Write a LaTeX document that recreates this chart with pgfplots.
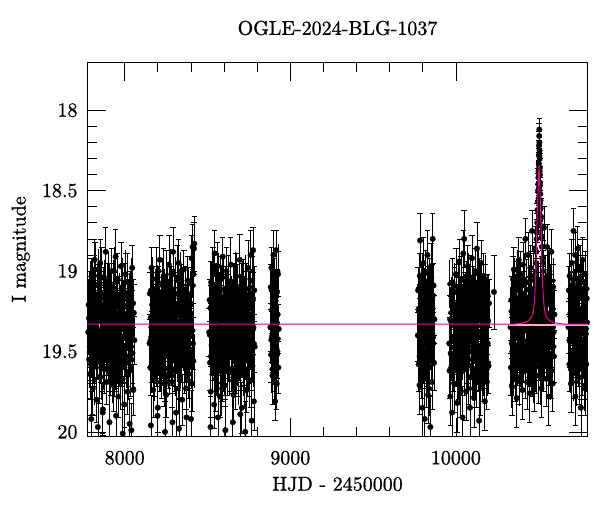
\documentclass[border=0pt]{standalone}
\usepackage{fontspec}
\setmainfont{lmroman10-regular.otf}[FakeBold=1]
\usepackage{pgfplots}
\pgfplotsset{compat=1.18}
\usepackage{pgfplotstable}

% light error bars: one path each, no nodes
\pgfplotsset{
  barplain/.style={/pgfplots/error bars/draw error bar/.code 2 args={%
    \draw[black, line width=0.9pt] ##1 -- ##2;}},
  barcap/.style={/pgfplots/error bars/draw error bar/.code 2 args={%
    \draw[black, line width=0.75pt] ##1 -- ##2 ++(-2.7pt,0pt) -- ++(5.4pt,0pt);}},
}

% OGLE I-band light curve, HJD-2450000, mag, error
\pgfplotstableread{
x y e
7780 19.38 .14
7782 19.21 .16
7785 19.55 .13
7787 19.30 .18
7790 19.64 .15
7792 19.15 .12
7795 19.41 .17
7797 19.06 .14
7798 19.92 .17
7800 19.47 .19
7802 19.33 .15
7805 19.24 .13
7807 19.73 .16
7810 19.12 .14
7812 19.50 .20
7815 19.27 .15
7817 19.59 .13
7818 18.93 .13
7820 18.99 .17
7822 19.44 .15
7825 19.18 .12
7827 19.36 .18
7830 19.80 .14
7832 19.23 .16
7835 19.52 .15
7837 19.09 .13
7838 19.97 .18
7840 19.39 .17
7842 19.31 .14
7845 19.66 .16
7847 19.17 .13
7850 19.42 .18
7852 18.95 .15
7855 19.57 .12
7857 19.26 .17
7860 19.46 .14
7862 19.04 .19
7865 19.35 .15
7867 19.88 .13
7868 19.86 .16
7870 19.14 .16
7872 19.48 .14
7875 19.29 .20
7877 19.61 .15
7880 19.20 .13
7882 19.40 .17
7885 18.88 .15
7887 19.53 .12
7890 19.32 .18
7892 19.69 .14
7895 19.11 .16
7897 19.43 .15
7900 19.22 .13
7902 19.51 .17
7905 19.25 .14
7907 19.49 .16
7908 19.94 .19
7910 19.08 .13
7912 19.37 .18
7915 19.62 .15
7917 19.19 .12
7920 19.54 .17
7922 19.00 .14
7925 19.34 .19
7927 19.45 .15
7930 19.13 .13
7932 19.71 .16
7935 19.28 .14
7937 19.58 .20
7940 19.16 .15
7942 19.42 .13
7945 18.91 .17
7947 19.47 .15
7948 19.90 .17
7950 19.63 .12
7952 19.22 .18
7955 19.39 .14
7957 19.05 .16
7960 19.52 .15
7962 19.78 .13
7965 19.30 .17
7967 19.17 .14
7970 19.56 .16
7972 19.24 .13
7975 19.44 .18
7977 18.97 .15
7980 19.60 .12
7982 19.35 .17
7985 19.10 .14
7987 19.67 .19
7988 20.01 .18
7990 19.21 .15
7992 19.48 .13
7995 19.27 .16
7997 19.83 .14
8000 19.15 .20
8002 19.41 .15
8005 19.02 .13
8007 19.53 .17
8010 19.31 .15
8012 19.46 .12
8015 19.07 .18
8017 19.75 .14
8020 19.23 .16
8022 19.57 .15
8025 19.18 .13
8027 19.38 .17
8030 19.95 .16
8032 19.14 .14
8035 19.60 .18
8037 19.29 .13
8040 19.99 .17
8042 19.41 .15
8045 18.98 .14
8047 19.51 .19
8050 19.20 .15
8052 19.74 .16
8055 19.26 .18
8058 19.43 .15
8150 19.45 .15
8152 19.14 .13
8155 19.60 .17
8157 19.29 .14
8158 19.96 .19
8160 19.41 .16
8162 18.98 .13
8165 19.51 .18
8167 19.36 .15
8170 19.20 .12
8172 19.74 .17
8175 19.11 .14
8177 19.43 .19
8180 19.26 .15
8182 19.65 .13
8185 19.17 .16
8187 19.54 .14
8190 19.05 .20
8192 19.39 .15
8195 19.48 .13
8197 19.24 .17
8198 19.90 .18
8200 19.85 .15
8202 19.09 .12
8205 19.46 .18
8207 19.32 .14
8210 19.59 .16
8212 18.93 .15
8215 19.42 .13
8217 19.50 .17
8220 19.22 .14
8222 19.63 .16
8225 19.13 .13
8227 19.37 .18
8230 19.19 .15
8232 19.56 .12
8235 19.03 .17
8237 19.70 .14
8240 19.28 .19
8242 19.44 .15
8243 20.00 .19
8245 19.15 .13
8247 19.40 .16
8250 19.77 .14
8252 19.07 .20
8255 19.49 .15
8257 19.25 .13
8260 19.53 .17
8262 19.21 .15
8265 19.61 .12
8267 18.96 .18
8270 19.34 .14
8272 19.47 .16
8275 19.51 .15
8277 19.22 .13
8280 19.43 .17
8282 19.11 .14
8285 19.69 .16
8287 19.32 .13
8288 19.94 .18
8290 19.53 .18
8292 18.88 .15
8295 19.40 .12
8297 19.20 .17
8300 19.61 .14
8302 19.29 .19
8305 19.48 .15
8307 19.14 .13
8310 19.88 .16
8312 19.35 .14
8315 19.04 .20
8317 19.46 .15
8320 19.26 .13
8322 19.57 .17
8325 18.95 .15
8327 19.42 .12
8328 19.98 .19
8330 19.17 .18
8332 19.66 .14
8335 19.31 .16
8337 19.39 .15
8340 19.09 .13
8342 19.52 .17
8345 19.23 .14
8347 19.80 .16
8350 19.36 .13
8352 19.18 .18
8355 19.44 .15
8357 18.99 .12
8360 19.59 .17
8362 19.27 .14
8365 19.50 .19
8367 19.12 .15
8370 19.73 .13
8372 19.24 .16
8373 19.91 .17
8375 19.33 .14
8377 19.47 .20
8380 19.06 .15
8382 19.41 .13
8385 19.15 .17
8387 19.64 .15
8390 19.30 .12
8392 19.55 .18
8395 19.21 .14
8397 19.38 .16
8400 19.92 .18
8402 19.08 .15
8405 18.92 .14
8407 19.70 .17
8410 18.85 .14
8412 19.45 .16
8415 19.02 .18
8418 18.86 .16
8420 18.83 .17
8510 19.38 .15
8512 19.18 .13
8515 19.57 .17
8517 19.23 .14
8518 19.97 .19
8520 19.75 .16
8522 19.07 .13
8525 19.46 .18
8527 19.31 .15
8530 19.53 .12
8532 19.02 .17
8535 19.41 .14
8537 19.15 .19
8540 19.83 .15
8542 19.27 .13
8543 18.89 .14
8545 19.48 .16
8547 19.21 .14
8550 19.67 .20
8552 19.10 .15
8555 19.35 .13
8557 19.60 .17
8560 18.97 .15
8562 19.44 .12
8563 19.91 .18
8565 19.24 .18
8567 19.56 .14
8570 19.17 .16
8572 19.30 .15
8575 19.78 .13
8577 19.52 .17
8580 19.05 .14
8582 19.39 .16
8585 19.22 .13
8587 19.63 .18
8590 19.47 .15
8592 18.91 .12
8595 19.42 .17
8597 19.16 .14
8600 19.58 .19
8602 19.28 .15
8605 19.71 .13
8607 19.13 .16
8608 19.99 .19
8610 19.45 .14
8612 19.34 .20
8615 19.00 .15
8617 19.54 .13
8620 19.19 .17
8622 19.62 .15
8625 19.37 .12
8627 19.08 .18
8630 19.49 .14
8632 19.25 .16
8635 19.47 .15
8637 19.34 .13
8640 18.96 .17
8642 19.61 .14
8645 19.21 .16
8647 19.53 .13
8650 19.25 .18
8652 19.49 .15
8653 19.94 .18
8655 19.07 .12
8657 19.77 .17
8660 19.40 .14
8662 19.15 .19
8665 19.44 .15
8667 19.28 .13
8670 19.70 .16
8672 19.03 .14
8675 19.56 .20
8677 19.19 .15
8680 19.37 .13
8682 19.13 .17
8685 19.63 .15
8687 19.22 .12
8690 19.50 .18
8692 19.42 .14
8695 18.93 .16
8697 19.59 .15
8698 19.89 .17
8700 19.32 .13
8702 19.46 .17
8705 19.09 .14
8707 19.85 .16
8710 19.24 .13
8712 19.48 .18
8715 19.39 .15
8717 19.05 .12
8720 19.54 .17
8722 19.17 .14
8725 19.65 .19
8727 19.26 .15
8728 20.00 .19
8730 19.43 .13
8732 19.11 .16
8735 19.74 .14
8737 19.20 .20
8740 19.36 .15
8742 19.51 .13
8745 18.98 .17
8747 19.41 .15
8750 19.29 .12
8752 19.60 .18
8755 19.14 .14
8757 19.45 .16
8760 18.90 .15
8762 19.68 .17
8765 19.27 .14
8767 19.93 .19
8770 19.06 .15
8772 19.52 .16
8775 18.87 .14
8777 19.35 .17
8780 19.81 .18
8782 19.12 .15
8785 19.47 .16
8880 19.35 .15
8882 19.10 .14
8884 19.52 .17
8886 18.98 .13
8888 19.41 .16
8890 19.24 .15
8892 19.65 .18
8894 19.17 .14
8896 19.47 .16
8898 18.90 .15
8900 19.30 .13
8902 19.58 .17
8904 19.06 .14
8906 19.38 .16
8908 19.81 .12
8910 19.21 .15
8912 19.44 .17
8914 18.87 .12
8916 19.33 .15
8918 19.70 .16
8920 19.13 .14
8922 19.50 .17
8924 19.27 .15
8926 19.02 .14
8928 19.60 .16
8930 19.36 .15
9770 19.40 .16
9772 19.12 .14
9775 19.58 .17
9777 19.25 .15
9780 19.71 .18
9782 19.03 .14
9784 18.81 .17
9786 19.47 .16
9788 19.18 .15
9790 19.36 .13
9792 19.62 .17
9794 19.08 .14
9796 19.29 .16
9798 19.85 .19
9800 19.21 .15
9802 19.44 .13
9804 18.95 .16
9806 19.53 .17
9808 19.33 .14
9810 19.14 .15
9812 19.92 .19
9814 19.26 .15
9816 19.49 .16
9818 19.01 .14
9820 19.67 .18
9822 19.38 .15
9824 19.19 .13
9826 19.55 .17
9828 18.90 .15
9830 19.42 .16
9832 19.77 .18
9834 19.11 .14
9836 19.31 .15
9838 19.60 .17
9840 19.06 .14
9842 19.45 .16
9844 19.23 .15
9846 19.97 .19
9848 19.35 .15
9850 18.97 .14
9852 19.52 .16
9854 19.16 .15
9856 19.69 .17
9858 19.28 .14
9860 18.80 .16
9862 19.41 .15
9865 19.09 .14
9868 19.57 .17
9870 19.30 .15
9960 19.45 .16
9962 19.62 .17
9965 19.30 .15
9967 19.78 .18
9970 19.31 .15
9972 19.52 .16
9975 19.20 .14
9977 19.88 .19
9980 19.07 .15
9982 19.41 .16
9985 19.58 .17
9987 19.26 .14
9990 19.70 .18
9992 19.13 .15
9995 19.47 .16
9997 19.34 .13
10000 19.02 .16
10002 19.55 .17
10005 19.22 .14
10007 19.82 .18
10010 19.38 .15
10012 19.10 .14
10015 19.63 .17
10017 19.28 .15
10020 18.94 .14
10022 19.49 .16
10025 19.17 .13
10027 19.73 .18
10030 19.33 .15
10032 19.05 .14
10035 19.57 .17
10037 19.24 .15
10040 19.91 .19
10042 19.42 .16
10045 18.89 .14
10047 19.36 .15
10050 18.80 .18
10052 19.60 .17
10055 19.15 .14
10057 19.46 .16
10060 19.27 .15
10062 19.75 .18
10065 19.08 .14
10067 19.40 .16
10070 19.53 .17
10072 18.97 .13
10075 19.31 .15
10077 19.66 .17
10080 19.19 .14
10082 19.44 .16
10085 19.85 .19
10087 19.23 .15
10090 19.04 .14
10092 19.50 .16
10095 19.35 .15
10097 18.92 .14
10100 19.61 .17
10102 19.26 .15
10105 19.43 .16
10107 19.11 .14
10110 19.79 .18
10112 19.37 .15
10115 19.00 .14
10117 19.54 .16
10120 19.21 .15
10122 19.68 .17
10125 19.32 .15
10127 18.86 .16
10130 19.47 .16
10132 19.14 .14
10135 19.58 .17
10137 19.29 .15
10140 19.93 .19
10142 19.06 .14
10145 19.41 .16
10147 19.25 .15
10150 19.72 .18
10152 18.95 .14
10155 19.38 .15
10157 19.52 .16
10160 19.18 .14
10162 19.64 .17
10165 19.34 .15
10167 19.03 .14
10170 19.48 .16
10172 19.22 .15
10175 19.81 .18
10177 19.39 .15
10180 19.10 .14
10182 19.56 .17
10185 19.27 .15
10187 19.69 .17
10190 19.16 .14
10192 19.45 .16
10195 19.31 .15
10197 19.59 .17
10200 19.20 .15
10230 19.13 .23
10330 19.35 .16
10332 19.60 .17
10335 19.18 .15
10337 19.45 .16
10340 19.72 .18
10342 19.27 .15
10345 19.05 .14
10347 19.52 .16
10350 18.99 .14
10352 19.38 .15
10355 19.15 .15
10357 19.64 .17
10360 19.23 .15
10362 19.47 .16
10365 19.08 .14
10367 19.79 .18
10370 19.31 .15
10372 19.55 .16
10375 19.12 .14
10377 19.41 .16
10380 18.93 .14
10382 19.66 .17
10385 19.26 .15
10387 19.49 .16
10390 19.02 .14
10392 19.34 .15
10395 19.58 .17
10397 19.19 .14
10400 19.43 .16
10402 19.74 .18
10405 18.96 .14
10407 19.29 .15
10410 19.53 .16
10412 19.14 .14
10415 19.37 .15
10417 19.62 .17
10420 18.80 .13
10422 19.22 .15
10425 19.46 .16
10427 19.07 .14
10430 19.69 .17
10432 19.32 .15
10435 18.90 .14
10437 19.50 .16
10440 19.17 .14
10442 19.40 .15
10445 19.76 .18
10447 19.25 .15
10450 18.98 .14
10452 19.56 .16
10455 19.11 .14
10457 19.35 .15
10460 18.75 .13
10462 19.61 .17
10465 19.20 .15
10467 19.44 .16
10470 19.03 .14
10472 19.70 .17
10475 19.28 .15
10477 18.86 .14
10480 19.48 .16
10482 19.13 .14
10485 19.36 .15
10487 19.59 .17
10490 19.09 .14
10492 19.42 .15
10495 19.24 .15
10498 19.65 .17
10501 19.33 .15
10504 19.18 .14
10507 19.52 .16
10510 19.06 .14
10513 19.39 .15
10515 19.27 .15
10517 19.73 .18
10520 19.15 .14
10522 19.45 .16
10525 18.95 .14
10527 19.31 .15
10530 19.58 .17
10532 18.73 .13
10535 19.21 .15
10537 19.47 .16
10540 19.04 .14
10542 19.37 .15
10545 19.67 .17
10547 19.26 .15
10550 18.85 .14
10552 19.50 .16
10555 19.16 .14
10557 19.40 .15
10560 19.78 .18
10562 19.29 .15
10565 19.00 .14
10567 19.55 .16
10570 19.19 .14
10572 19.34 .15
10575 19.62 .17
10577 18.88 .14
10580 19.44 .16
10582 19.23 .15
10585 19.70 .17
10587 19.10 .14
10590 19.38 .15
10592 19.53 .16
10595 19.27 .15
10482 18.95 .13
10485 18.88 .13
10487 18.80 .12
10489 18.76 .12
10491 18.70 .12
10493 18.62 .11
10495 18.57 .11
10496 18.50 .11
10497 18.46 .10
10497.5 18.64 .11
10498 18.42 .10
10499 18.38 .10
10499.5 18.55 .11
10500 18.33 .09
10500.5 18.41 .10
10501 18.28 .09
10501.5 18.49 .10
10502 18.22 .09
10502.5 18.35 .09
10503 18.16 .08
10503.5 18.28 .09
10504 18.12 .07
10504.5 18.20 .08
10505 18.25 .08
10505.5 18.38 .09
10506 18.30 .09
10506.5 18.47 .10
10507 18.36 .09
10508 18.40 .10
10508.5 18.58 .11
10509 18.45 .10
10510 18.52 .10
10510.5 18.68 .12
10511 18.56 .11
10512 18.61 .11
10514 18.66 .11
10516 18.72 .12
10518 18.79 .12
10520 18.85 .12
10523 18.92 .13
10526 19.00 .13
10680 19.35 .16
10682 19.12 .15
10685 19.58 .17
10687 19.03 .14
10690 19.44 .16
10692 19.26 .15
10695 19.70 .18
10697 19.15 .14
10700 18.95 .15
10702 19.50 .16
10705 19.31 .15
10707 19.08 .14
10710 18.75 .14
10712 19.62 .17
10715 19.21 .15
10717 19.40 .16
10720 18.90 .14
10722 19.78 .18
10725 19.28 .15
10727 19.05 .14
10730 19.47 .16
10732 19.18 .15
10735 18.86 .14
10737 19.55 .17
10740 19.33 .15
10742 19.10 .14
10745 19.66 .17
10747 19.24 .15
10750 18.98 .14
10752 19.42 .16
10755 19.85 .19
10757 19.14 .15
10760 19.37 .15
10762 19.60 .17
10765 18.93 .14
10767 19.29 .15
10770 19.51 .16
10772 19.07 .14
10775 19.45 .16
10777 19.20 .15
10780 19.73 .17
10782 19.02 .14
10785 19.39 .15
10787 19.58 .17
10790 19.17 .15
10792 19.32 .15
}\lcdata

% further nights, same seasons (drawn as bars only)
\pgfplotstableread{
x y e
7781 19.29 .15
7784 19.47 .14
7786 19.16 .16
7789 19.58 .15
7791 19.36 .13
7794 19.11 .17
7796 19.42 .15
7799 19.52 .14
7801 19.22 .16
7804 19.63 .15
7806 19.06 .13
7809 19.39 .17
7811 19.25 .15
7814 19.54 .14
7816 19.18 .16
7819 19.68 .15
7821 19.33 .13
7824 19.14 .17
7826 19.45 .15
7829 19.27 .14
7831 19.60 .16
7834 19.20 .15
7836 19.50 .13
7839 19.03 .17
7841 19.41 .15
7844 19.37 .14
7846 19.09 .16
7849 19.56 .15
7851 19.31 .13
7854 19.48 .17
7856 19.23 .15
7859 19.66 .14
7861 19.13 .16
7864 19.44 .15
7866 19.34 .13
7869 19.17 .17
7871 19.59 .15
7874 19.26 .14
7876 19.51 .16
7879 19.08 .15
7881 19.43 .13
7884 19.12 .17
7886 19.35 .15
7889 19.61 .14
7891 19.21 .16
7894 19.49 .15
7896 19.28 .13
7899 19.05 .17
7901 19.55 .15
7904 19.40 .14
7906 19.19 .16
7909 19.64 .15
7911 19.30 .13
7914 19.46 .17
7916 19.15 .15
7919 19.57 .14
7921 19.24 .16
7924 19.38 .15
7926 19.69 .13
7929 19.10 .17
7931 19.48 .15
7934 19.32 .14
7936 19.52 .16
7939 19.00 .15
7941 19.42 .13
7944 19.26 .17
7946 19.59 .15
7949 19.17 .14
7951 19.36 .16
7954 19.45 .15
7956 19.07 .13
7959 19.53 .17
7961 19.29 .15
7964 19.62 .14
7966 19.22 .16
7969 19.39 .15
7971 19.14 .13
7974 19.50 .17
7976 19.71 .15
7979 19.25 .14
7981 19.40 .16
7984 19.23 .15
7986 19.53 .13
7989 19.09 .17
7991 19.46 .15
7994 19.34 .14
7996 19.18 .16
7999 19.60 .15
8001 19.27 .13
8004 19.49 .17
8006 19.02 .15
8009 19.42 .14
8011 19.57 .16
8014 19.21 .15
8016 19.37 .13
8019 19.13 .17
8021 19.65 .15
8024 19.30 .14
8026 19.44 .16
8029 19.16 .15
8031 19.51 .13
8034 19.25 .17
8036 19.62 .15
8039 19.06 .14
8041 19.35 .16
8044 19.47 .15
8046 19.20 .13
8049 19.55 .17
8051 19.28 .15
8054 19.73 .14
8151 19.43 .15
8154 19.12 .14
8156 19.35 .16
8159 19.61 .15
8161 19.21 .13
8164 19.49 .17
8166 19.28 .15
8169 19.05 .14
8171 19.55 .16
8174 19.40 .15
8176 19.19 .13
8179 19.64 .17
8181 19.30 .15
8184 19.46 .14
8186 19.15 .16
8189 19.57 .15
8191 19.24 .13
8194 19.38 .17
8196 19.69 .15
8199 19.10 .14
8201 19.48 .16
8204 19.32 .15
8206 19.52 .13
8209 19.00 .17
8211 19.42 .15
8214 19.26 .14
8216 19.59 .16
8219 19.17 .15
8221 19.36 .13
8224 19.45 .17
8226 19.07 .15
8229 19.53 .14
8231 19.29 .16
8234 19.62 .15
8236 19.22 .13
8239 19.39 .17
8241 19.14 .15
8244 19.50 .14
8246 19.71 .16
8249 19.25 .15
8251 19.40 .13
8254 19.23 .17
8256 19.53 .15
8259 19.09 .14
8261 19.46 .16
8264 19.34 .15
8266 19.18 .13
8269 19.60 .17
8271 19.27 .15
8274 19.49 .14
8276 19.02 .16
8279 19.42 .15
8281 19.57 .13
8284 19.21 .17
8286 19.37 .15
8289 19.13 .14
8291 19.65 .16
8294 19.30 .15
8296 19.44 .13
8299 19.16 .17
8301 19.51 .15
8304 19.25 .14
8306 19.62 .16
8309 19.06 .15
8311 19.35 .13
8314 19.47 .17
8316 19.20 .15
8319 19.55 .14
8321 19.28 .16
8324 19.73 .15
8326 19.11 .13
8329 19.43 .17
8331 19.32 .15
8334 19.50 .14
8336 19.04 .16
8339 19.58 .15
8341 19.24 .13
8344 19.39 .17
8346 19.15 .15
8349 19.45 .14
8351 19.29 .16
8354 19.47 .15
8356 19.16 .13
8359 19.58 .17
8361 19.36 .15
8364 19.11 .14
8366 19.42 .16
8369 19.52 .15
8371 19.22 .13
8374 19.63 .17
8376 19.06 .15
8379 19.39 .14
8381 19.25 .16
8384 19.54 .15
8386 19.18 .13
8389 19.68 .17
8391 19.33 .15
8394 19.14 .14
8396 19.45 .16
8399 19.27 .15
8401 19.60 .13
8404 19.20 .17
8406 19.50 .15
8409 19.03 .14
8411 19.41 .16
8414 19.37 .15
8416 19.09 .13
8419 19.56 .17
8511 19.40 .15
8514 19.23 .14
8516 19.53 .16
8519 19.09 .15
8521 19.46 .13
8524 19.34 .17
8526 19.18 .15
8529 19.60 .14
8531 19.27 .16
8534 19.49 .15
8536 19.02 .13
8539 19.42 .17
8541 19.57 .15
8544 19.21 .14
8546 19.37 .16
8549 19.13 .15
8551 19.65 .13
8554 19.30 .17
8556 19.44 .15
8559 19.16 .14
8561 19.51 .16
8564 19.25 .15
8566 19.62 .13
8569 19.06 .17
8571 19.35 .15
8574 19.47 .14
8576 19.20 .16
8579 19.55 .15
8581 19.28 .13
8584 19.73 .17
8586 19.11 .15
8589 19.43 .14
8591 19.32 .16
8594 19.50 .15
8596 19.04 .13
8599 19.58 .17
8601 19.24 .15
8604 19.39 .14
8606 19.15 .16
8609 19.45 .15
8611 19.29 .13
8614 19.47 .17
8616 19.16 .15
8619 19.58 .14
8621 19.36 .16
8624 19.11 .15
8626 19.42 .13
8629 19.52 .17
8631 19.22 .15
8634 19.63 .14
8636 19.06 .16
8639 19.39 .15
8641 19.25 .13
8644 19.54 .17
8646 19.18 .15
8649 19.68 .14
8651 19.33 .16
8654 19.14 .15
8656 19.45 .13
8659 19.27 .17
8661 19.60 .15
8664 19.20 .14
8666 19.50 .16
8669 19.03 .15
8671 19.41 .13
8674 19.37 .17
8676 19.09 .15
8679 19.56 .14
8681 19.31 .16
8684 19.48 .15
8686 19.23 .13
8689 19.66 .17
8691 19.13 .15
8694 19.44 .14
8696 19.34 .16
8699 19.17 .15
8701 19.59 .13
8704 19.26 .17
8706 19.51 .15
8709 19.08 .14
8711 19.43 .16
8714 19.12 .15
8716 19.35 .13
8719 19.61 .17
8721 19.21 .15
8724 19.49 .14
8726 19.28 .16
8729 19.05 .15
8731 19.55 .13
8734 19.40 .17
8736 19.19 .15
8739 19.64 .14
8741 19.30 .16
8744 19.46 .15
8746 19.15 .13
8749 19.57 .17
8751 19.24 .15
8754 19.38 .14
8756 19.69 .16
8759 19.10 .15
8761 19.48 .13
8764 19.32 .17
8766 19.52 .15
8769 19.00 .14
8771 19.42 .16
8774 19.26 .15
8776 19.59 .13
8779 19.17 .17
8781 19.36 .15
8784 19.45 .14
8881 19.43 .15
8883 19.12 .14
8885 19.35 .16
8887 19.61 .15
8889 19.21 .13
8891 19.49 .17
8893 19.28 .15
8895 19.05 .14
8897 19.55 .16
8899 19.40 .15
8901 19.19 .13
8903 19.64 .17
8905 19.30 .15
8907 19.46 .14
8909 19.15 .16
8911 19.57 .15
8913 19.24 .13
8915 19.38 .17
8917 19.69 .15
8919 19.10 .14
8921 19.48 .16
8923 19.32 .15
8925 19.52 .13
8927 19.00 .17
8929 19.42 .15
9771 19.40 .15
9773 19.23 .14
9776 19.53 .16
9778 19.09 .15
9781 19.46 .13
9783 19.34 .17
9786 19.18 .15
9788 19.60 .14
9791 19.27 .16
9793 19.49 .15
9796 19.02 .13
9798 19.42 .17
9801 19.57 .15
9803 19.21 .14
9806 19.37 .16
9808 19.13 .15
9811 19.65 .13
9813 19.30 .17
9816 19.44 .15
9818 19.16 .14
9821 19.51 .16
9823 19.25 .15
9826 19.62 .13
9828 19.06 .17
9831 19.35 .15
9833 19.47 .14
9836 19.20 .16
9838 19.55 .15
9841 19.28 .13
9843 19.73 .17
9846 19.11 .15
9848 19.43 .14
9851 19.32 .16
9853 19.50 .15
9856 19.04 .13
9858 19.58 .17
9861 19.24 .15
9863 19.39 .14
9866 19.15 .16
9869 19.45 .15
9961 19.08 .15
9964 19.51 .14
9966 19.26 .16
9969 19.59 .15
9971 19.17 .13
9974 19.34 .17
9976 19.44 .15
9979 19.13 .14
9981 19.66 .16
9984 19.23 .15
9986 19.48 .13
9989 19.31 .17
9991 19.56 .15
9994 19.09 .14
9996 19.37 .16
9999 19.41 .15
10001 19.03 .13
10004 19.50 .17
10006 19.20 .15
10009 19.60 .14
10011 19.27 .16
10014 19.45 .15
10016 19.14 .13
10019 19.33 .17
10021 19.68 .15
10024 19.18 .14
10026 19.54 .16
10029 19.25 .15
10031 19.39 .13
10034 19.06 .17
10036 19.63 .15
10039 19.22 .14
10041 19.52 .16
10044 19.42 .15
10046 19.11 .13
10049 19.36 .17
10051 19.58 .15
10054 19.16 .14
10056 19.47 .16
10059 19.29 .15
10061 19.45 .13
10064 19.15 .17
10066 19.39 .15
10069 19.24 .14
10071 19.58 .16
10074 19.04 .15
10076 19.50 .13
10079 19.32 .17
10081 19.43 .15
10084 19.11 .14
10086 19.73 .16
10089 19.28 .15
10091 19.55 .13
10094 19.20 .17
10096 19.47 .15
10099 19.35 .14
10101 19.06 .16
10104 19.62 .15
10106 19.25 .13
10109 19.51 .17
10111 19.16 .15
10114 19.44 .14
10116 19.30 .16
10119 19.65 .15
10121 19.13 .13
10124 19.37 .17
10126 19.21 .15
10129 19.57 .14
10131 19.42 .16
10134 19.02 .15
10136 19.49 .13
10139 19.27 .17
10141 19.60 .15
10144 19.18 .14
10146 19.34 .16
10149 19.46 .15
10151 19.09 .13
10154 19.53 .17
10156 19.23 .15
10159 19.40 .14
10161 19.43 .16
10164 19.12 .15
10166 19.35 .13
10169 19.61 .17
10171 19.21 .15
10174 19.49 .14
10176 19.28 .16
10179 19.05 .15
10181 19.55 .13
10184 19.40 .17
10186 19.19 .15
10189 19.64 .14
10191 19.30 .16
10194 19.46 .15
10196 19.15 .13
10199 19.57 .17
10331 19.25 .15
10334 19.71 .14
10336 19.50 .16
10339 19.14 .15
10341 19.39 .13
10344 19.22 .17
10346 19.62 .15
10349 19.29 .14
10351 19.53 .16
10354 19.07 .15
10356 19.45 .13
10359 19.36 .17
10361 19.17 .15
10364 19.59 .14
10366 19.26 .16
10369 19.42 .15
10371 19.00 .13
10374 19.52 .17
10376 19.32 .15
10379 19.48 .14
10381 19.10 .16
10384 19.69 .15
10386 19.38 .13
10389 19.24 .17
10391 19.57 .15
10394 19.15 .14
10396 19.46 .16
10399 19.30 .15
10401 19.64 .13
10404 19.19 .17
10406 19.40 .15
10409 19.55 .14
10411 19.05 .16
10414 19.28 .15
10416 19.49 .13
10419 19.21 .17
10421 19.61 .15
10424 19.35 .14
10426 19.12 .16
10429 19.43 .15
10431 19.29 .13
10434 19.47 .17
10436 19.16 .15
10439 19.58 .14
10441 19.36 .16
10444 19.11 .15
10446 19.42 .13
10449 19.52 .17
10451 19.22 .15
10454 19.63 .14
10456 19.06 .16
10459 19.39 .15
10461 19.25 .13
10464 19.54 .17
10466 19.18 .15
10469 19.68 .14
10471 19.33 .16
10474 19.14 .15
10476 19.45 .13
10479 19.27 .17
10481 19.60 .15
10484 19.20 .14
10486 19.50 .16
10489 19.03 .15
10491 19.41 .13
10494 19.37 .17
10496 19.09 .15
10499 19.56 .14
10501 19.31 .16
10504 19.48 .15
10506 19.23 .13
10509 19.66 .17
10511 19.13 .15
10514 19.44 .14
10516 19.34 .16
10519 19.17 .15
10521 19.59 .13
10524 19.26 .17
10526 19.51 .15
10529 19.08 .14
10531 19.40 .16
10534 19.23 .15
10536 19.53 .13
10539 19.09 .17
10541 19.46 .15
10544 19.34 .14
10546 19.18 .16
10549 19.60 .15
10551 19.27 .13
10554 19.49 .17
10556 19.02 .15
10559 19.42 .14
10561 19.57 .16
10564 19.21 .15
10566 19.37 .13
10569 19.13 .17
10571 19.65 .15
10574 19.30 .14
10576 19.44 .16
10579 19.16 .15
10581 19.51 .13
10584 19.25 .17
10586 19.62 .15
10589 19.06 .14
10591 19.35 .16
10594 19.47 .15
10681 19.43 .15
10684 19.12 .14
10686 19.35 .16
10689 19.61 .15
10691 19.21 .13
10694 19.49 .17
10696 19.28 .15
10699 19.05 .14
10701 19.55 .16
10704 19.40 .15
10706 19.19 .13
10709 19.64 .17
10711 19.30 .15
10714 19.46 .14
10716 19.15 .16
10719 19.57 .15
10721 19.24 .13
10724 19.38 .17
10726 19.69 .15
10729 19.10 .14
10731 19.48 .16
10734 19.32 .15
10736 19.52 .13
10739 19.00 .17
10741 19.42 .15
10744 19.26 .14
10746 19.59 .16
10749 19.17 .15
10751 19.36 .13
10754 19.45 .17
10756 19.07 .15
10759 19.53 .14
10761 19.29 .16
10764 19.62 .15
10766 19.22 .13
10769 19.39 .17
10771 19.14 .15
10774 19.50 .14
10776 19.71 .16
10779 19.25 .15
10781 19.29 .13
10784 19.47 .17
10786 19.16 .15
10789 19.58 .14
10791 19.36 .16
10794 19.11 .15
}\lcfill

% point-lens model curve
\pgfplotstableread{
x y
7774 19.33
10340 19.33
10392 19.325
10428 19.315
10447 19.30
10459 19.28
10467 19.25
10472 19.21
10476 19.16
10479 19.10
10482 19.03
10484 18.96
10486 18.87
10488 18.78
10490 18.70
10492 18.62
10494 18.57
10496 18.51
10498 18.45
10500 18.39
10502 18.34
10504 18.39
10506 18.45
10508 18.51
10510 18.57
10512 18.62
10514 18.70
10516 18.78
10518 18.87
10520 18.96
10522 19.03
10525 19.10
10528 19.16
10532 19.21
10537 19.25
10545 19.28
10557 19.30
10576 19.315
10612 19.325
10664 19.33
10796 19.33
}\model

\begin{document}
\begin{tikzpicture}
\begin{axis}[
  set layers,
  scale only axis, width=500.4pt, height=374.7pt,
  xmin=7774, xmax=10796, ymin=17.70, ymax=20.03, y dir=reverse,
  xtick={8000,9000,10000}, minor x tick num=4,
  ytick={18,18.5,19,19.5,20}, minor y tick num=4,
  scaled x ticks=false, scaled y ticks=false,
  /pgf/number format/1000 sep={},
  /pgf/number format/assume math mode=true,
  tick align=inside,
  major tick length=19pt, minor tick length=10pt,
  tick style={line width=0.7pt, black},
  axis line style={line width=0.7pt},
  tick label style={font=\fontsize{20}{24}\selectfont, inner sep=0pt},
  xticklabel shift=14pt, yticklabel shift=9.6pt,
  label style={font=\fontsize{20}{24}\selectfont},
  xlabel={HJD - 2450000}, ylabel={I magnitude},
  xlabel style={at={(axis description cs:0.5,-0.1262)}, anchor=center},
  ylabel style={at={(axis description cs:-0.1331,0.5)}, anchor=center},
  title={OGLE-2024-BLG-1037},
  title style={at={(axis description cs:0.5,1.0747)}, anchor=center,
    font=\fontsize{20}{24}\selectfont},
]
\addplot[only marks, mark=none, barplain,
  error bars/.cd, y dir=both, y explicit]
  table[x=x, y=y, y error=e] {\lcfill};
\addplot[only marks, mark=*, mark size=2.8pt, barcap,
  mark options={fill=black, draw=black, line width=0.3pt},
  error bars/.cd, y dir=both, y explicit]
  table[x=x, y=y, y error=e] {\lcdata};
\addplot[on layer=axis foreground, magenta!35, line width=2pt]
  coordinates {(10320,19.336) (10796,19.336)};
\addplot[on layer=axis foreground, magenta, line width=1pt]
  table[x=x, y=y] {\model};
\end{axis}
\pgfresetboundingbox
\useasboundingbox (-87.3pt,-75.3pt) rectangle (512.7pt,436.7pt);
\end{tikzpicture}
\end{document}
